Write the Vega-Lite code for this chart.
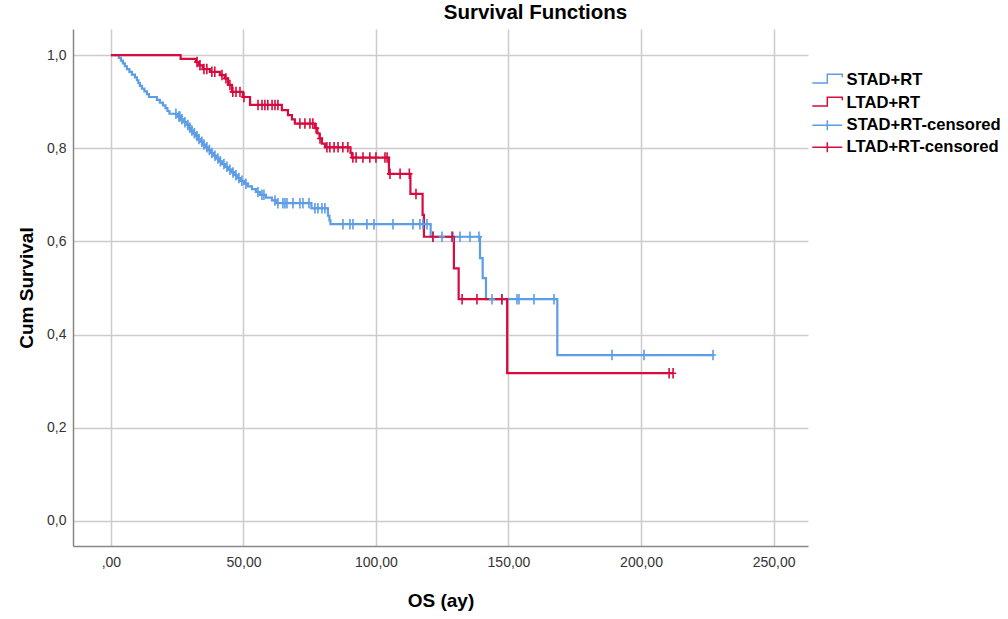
{
  "$schema": "https://vega.github.io/schema/vega-lite/v6.json",
  "width": 735,
  "height": 517,
  "autosize": {"type": "none"},
  "padding": {"left": 73, "top": 29, "right": 200, "bottom": 73},
  "background": "white",
  "title": {"text": "Survival Functions", "font": "Liberation Sans", "fontSize": 20.5, "fontWeight": "bold", "color": "#000000", "offset": 6, "dx": 95},
  "config": {"view": {"stroke": null}},
  "datasets": {
    "steps": [
      {"group": "STAD+RT", "t": 0, "s": 1.0},
      {"group": "STAD+RT", "t": 3.02, "s": 0.994},
      {"group": "STAD+RT", "t": 3.77, "s": 0.988},
      {"group": "STAD+RT", "t": 4.53, "s": 0.982},
      {"group": "STAD+RT", "t": 5.28, "s": 0.976},
      {"group": "STAD+RT", "t": 6.04, "s": 0.970},
      {"group": "STAD+RT", "t": 6.98, "s": 0.964},
      {"group": "STAD+RT", "t": 7.92, "s": 0.958},
      {"group": "STAD+RT", "t": 9.06, "s": 0.952},
      {"group": "STAD+RT", "t": 9.81, "s": 0.946},
      {"group": "STAD+RT", "t": 10.38, "s": 0.940},
      {"group": "STAD+RT", "t": 10.94, "s": 0.934},
      {"group": "STAD+RT", "t": 11.70, "s": 0.928},
      {"group": "STAD+RT", "t": 12.64, "s": 0.922},
      {"group": "STAD+RT", "t": 13.58, "s": 0.916},
      {"group": "STAD+RT", "t": 14.34, "s": 0.910},
      {"group": "STAD+RT", "t": 17.36, "s": 0.904},
      {"group": "STAD+RT", "t": 18.49, "s": 0.898},
      {"group": "STAD+RT", "t": 19.62, "s": 0.892},
      {"group": "STAD+RT", "t": 20.57, "s": 0.886},
      {"group": "STAD+RT", "t": 21.32, "s": 0.880},
      {"group": "STAD+RT", "t": 22.08, "s": 0.874},
      {"group": "STAD+RT", "t": 25.28, "s": 0.868},
      {"group": "STAD+RT", "t": 26.42, "s": 0.862},
      {"group": "STAD+RT", "t": 27.55, "s": 0.856},
      {"group": "STAD+RT", "t": 28.68, "s": 0.850},
      {"group": "STAD+RT", "t": 29.43, "s": 0.844},
      {"group": "STAD+RT", "t": 30.19, "s": 0.838},
      {"group": "STAD+RT", "t": 31.13, "s": 0.832},
      {"group": "STAD+RT", "t": 32.08, "s": 0.826},
      {"group": "STAD+RT", "t": 32.83, "s": 0.820},
      {"group": "STAD+RT", "t": 33.77, "s": 0.814},
      {"group": "STAD+RT", "t": 34.72, "s": 0.808},
      {"group": "STAD+RT", "t": 35.66, "s": 0.802},
      {"group": "STAD+RT", "t": 36.60, "s": 0.796},
      {"group": "STAD+RT", "t": 37.74, "s": 0.790},
      {"group": "STAD+RT", "t": 38.68, "s": 0.784},
      {"group": "STAD+RT", "t": 39.62, "s": 0.778},
      {"group": "STAD+RT", "t": 40.75, "s": 0.772},
      {"group": "STAD+RT", "t": 41.89, "s": 0.766},
      {"group": "STAD+RT", "t": 43.02, "s": 0.760},
      {"group": "STAD+RT", "t": 44.15, "s": 0.754},
      {"group": "STAD+RT", "t": 45.47, "s": 0.748},
      {"group": "STAD+RT", "t": 46.60, "s": 0.742},
      {"group": "STAD+RT", "t": 47.74, "s": 0.736},
      {"group": "STAD+RT", "t": 48.87, "s": 0.730},
      {"group": "STAD+RT", "t": 50.19, "s": 0.724},
      {"group": "STAD+RT", "t": 51.70, "s": 0.718},
      {"group": "STAD+RT", "t": 53.21, "s": 0.712},
      {"group": "STAD+RT", "t": 54.72, "s": 0.706},
      {"group": "STAD+RT", "t": 56.23, "s": 0.700},
      {"group": "STAD+RT", "t": 58.49, "s": 0.694},
      {"group": "STAD+RT", "t": 60.75, "s": 0.688},
      {"group": "STAD+RT", "t": 62.26, "s": 0.682},
      {"group": "STAD+RT", "t": 75.66, "s": 0.671},
      {"group": "STAD+RT", "t": 81.89, "s": 0.655},
      {"group": "STAD+RT", "t": 82.45, "s": 0.645},
      {"group": "STAD+RT", "t": 82.83, "s": 0.637},
      {"group": "STAD+RT", "t": 120.64, "s": 0.610},
      {"group": "STAD+RT", "t": 139.25, "s": 0.564},
      {"group": "STAD+RT", "t": 140.26, "s": 0.521},
      {"group": "STAD+RT", "t": 141.51, "s": 0.476},
      {"group": "STAD+RT", "t": 168.42, "s": 0.356},
      {"group": "STAD+RT", "t": 227.17, "s": 0.356},
      {"group": "LTAD+RT", "t": 0, "s": 1.0},
      {"group": "LTAD+RT", "t": 26.3, "s": 0.992},
      {"group": "LTAD+RT", "t": 32.1, "s": 0.985},
      {"group": "LTAD+RT", "t": 33.2, "s": 0.978},
      {"group": "LTAD+RT", "t": 34.7, "s": 0.970},
      {"group": "LTAD+RT", "t": 37.4, "s": 0.964},
      {"group": "LTAD+RT", "t": 41.1, "s": 0.957},
      {"group": "LTAD+RT", "t": 43.0, "s": 0.950},
      {"group": "LTAD+RT", "t": 44.2, "s": 0.936},
      {"group": "LTAD+RT", "t": 45.7, "s": 0.921},
      {"group": "LTAD+RT", "t": 49.8, "s": 0.910},
      {"group": "LTAD+RT", "t": 52.5, "s": 0.893},
      {"group": "LTAD+RT", "t": 64.5, "s": 0.882},
      {"group": "LTAD+RT", "t": 66.8, "s": 0.871},
      {"group": "LTAD+RT", "t": 68.3, "s": 0.862},
      {"group": "LTAD+RT", "t": 69.4, "s": 0.853},
      {"group": "LTAD+RT", "t": 77.0, "s": 0.843},
      {"group": "LTAD+RT", "t": 77.9, "s": 0.832},
      {"group": "LTAD+RT", "t": 78.7, "s": 0.821},
      {"group": "LTAD+RT", "t": 79.6, "s": 0.810},
      {"group": "LTAD+RT", "t": 80.8, "s": 0.802},
      {"group": "LTAD+RT", "t": 90.4, "s": 0.790},
      {"group": "LTAD+RT", "t": 90.9, "s": 0.780},
      {"group": "LTAD+RT", "t": 104.9, "s": 0.745},
      {"group": "LTAD+RT", "t": 113.0, "s": 0.702},
      {"group": "LTAD+RT", "t": 117.6, "s": 0.657},
      {"group": "LTAD+RT", "t": 118.1, "s": 0.610},
      {"group": "LTAD+RT", "t": 129.4, "s": 0.542},
      {"group": "LTAD+RT", "t": 131.2, "s": 0.476},
      {"group": "LTAD+RT", "t": 149.5, "s": 0.317},
      {"group": "LTAD+RT", "t": 212.1, "s": 0.317}
    ],
    "censored": [
      {"group": "STAD+RT-censored", "t": 24.53, "s": 0.874},
      {"group": "STAD+RT-censored", "t": 25.66, "s": 0.868},
      {"group": "STAD+RT-censored", "t": 26.04, "s": 0.868},
      {"group": "STAD+RT-censored", "t": 26.79, "s": 0.862},
      {"group": "STAD+RT-censored", "t": 27.92, "s": 0.856},
      {"group": "STAD+RT-censored", "t": 29.06, "s": 0.850},
      {"group": "STAD+RT-censored", "t": 29.81, "s": 0.844},
      {"group": "STAD+RT-censored", "t": 30.57, "s": 0.838},
      {"group": "STAD+RT-censored", "t": 31.51, "s": 0.832},
      {"group": "STAD+RT-censored", "t": 32.45, "s": 0.826},
      {"group": "STAD+RT-censored", "t": 33.21, "s": 0.820},
      {"group": "STAD+RT-censored", "t": 34.34, "s": 0.814},
      {"group": "STAD+RT-censored", "t": 35.09, "s": 0.808},
      {"group": "STAD+RT-censored", "t": 36.23, "s": 0.802},
      {"group": "STAD+RT-censored", "t": 37.17, "s": 0.796},
      {"group": "STAD+RT-censored", "t": 38.11, "s": 0.790},
      {"group": "STAD+RT-censored", "t": 39.25, "s": 0.784},
      {"group": "STAD+RT-censored", "t": 40.38, "s": 0.778},
      {"group": "STAD+RT-censored", "t": 41.32, "s": 0.772},
      {"group": "STAD+RT-censored", "t": 42.64, "s": 0.766},
      {"group": "STAD+RT-censored", "t": 43.77, "s": 0.760},
      {"group": "STAD+RT-censored", "t": 44.91, "s": 0.754},
      {"group": "STAD+RT-censored", "t": 46.04, "s": 0.748},
      {"group": "STAD+RT-censored", "t": 47.17, "s": 0.742},
      {"group": "STAD+RT-censored", "t": 48.30, "s": 0.736},
      {"group": "STAD+RT-censored", "t": 49.43, "s": 0.730},
      {"group": "STAD+RT-censored", "t": 50.94, "s": 0.724},
      {"group": "STAD+RT-censored", "t": 55.47, "s": 0.706},
      {"group": "STAD+RT-censored", "t": 56.98, "s": 0.700},
      {"group": "STAD+RT-censored", "t": 57.74, "s": 0.700},
      {"group": "STAD+RT-censored", "t": 61.89, "s": 0.688},
      {"group": "STAD+RT-censored", "t": 63.02, "s": 0.682},
      {"group": "STAD+RT-censored", "t": 64.91, "s": 0.682},
      {"group": "STAD+RT-censored", "t": 65.66, "s": 0.682},
      {"group": "STAD+RT-censored", "t": 66.42, "s": 0.682},
      {"group": "STAD+RT-censored", "t": 68.68, "s": 0.682},
      {"group": "STAD+RT-censored", "t": 71.32, "s": 0.682},
      {"group": "STAD+RT-censored", "t": 72.45, "s": 0.682},
      {"group": "STAD+RT-censored", "t": 74.72, "s": 0.682},
      {"group": "STAD+RT-censored", "t": 76.98, "s": 0.671},
      {"group": "STAD+RT-censored", "t": 78.11, "s": 0.671},
      {"group": "STAD+RT-censored", "t": 79.62, "s": 0.671},
      {"group": "STAD+RT-censored", "t": 80.75, "s": 0.671},
      {"group": "STAD+RT-censored", "t": 87.55, "s": 0.637},
      {"group": "STAD+RT-censored", "t": 90.19, "s": 0.637},
      {"group": "STAD+RT-censored", "t": 91.32, "s": 0.637},
      {"group": "STAD+RT-censored", "t": 96.60, "s": 0.637},
      {"group": "STAD+RT-censored", "t": 99.25, "s": 0.637},
      {"group": "STAD+RT-censored", "t": 106.42, "s": 0.637},
      {"group": "STAD+RT-censored", "t": 113.96, "s": 0.637},
      {"group": "STAD+RT-censored", "t": 116.60, "s": 0.637},
      {"group": "STAD+RT-censored", "t": 117.74, "s": 0.637},
      {"group": "STAD+RT-censored", "t": 119.25, "s": 0.637},
      {"group": "STAD+RT-censored", "t": 121.51, "s": 0.610},
      {"group": "STAD+RT-censored", "t": 124.91, "s": 0.610},
      {"group": "STAD+RT-censored", "t": 129.06, "s": 0.610},
      {"group": "STAD+RT-censored", "t": 131.70, "s": 0.610},
      {"group": "STAD+RT-censored", "t": 135.47, "s": 0.610},
      {"group": "STAD+RT-censored", "t": 138.87, "s": 0.610},
      {"group": "STAD+RT-censored", "t": 143.77, "s": 0.476},
      {"group": "STAD+RT-censored", "t": 147.55, "s": 0.476},
      {"group": "STAD+RT-censored", "t": 153.21, "s": 0.476},
      {"group": "STAD+RT-censored", "t": 153.96, "s": 0.476},
      {"group": "STAD+RT-censored", "t": 159.62, "s": 0.476},
      {"group": "STAD+RT-censored", "t": 167.17, "s": 0.476},
      {"group": "STAD+RT-censored", "t": 189.06, "s": 0.356},
      {"group": "STAD+RT-censored", "t": 201.13, "s": 0.356},
      {"group": "STAD+RT-censored", "t": 227.17, "s": 0.356},
      {"group": "LTAD+RT-censored", "t": 32.5, "s": 0.985},
      {"group": "LTAD+RT-censored", "t": 33.6, "s": 0.978},
      {"group": "LTAD+RT-censored", "t": 35.1, "s": 0.970},
      {"group": "LTAD+RT-censored", "t": 36.2, "s": 0.970},
      {"group": "LTAD+RT-censored", "t": 38.1, "s": 0.964},
      {"group": "LTAD+RT-censored", "t": 39.2, "s": 0.964},
      {"group": "LTAD+RT-censored", "t": 41.9, "s": 0.957},
      {"group": "LTAD+RT-censored", "t": 43.4, "s": 0.950},
      {"group": "LTAD+RT-censored", "t": 44.9, "s": 0.936},
      {"group": "LTAD+RT-censored", "t": 46.0, "s": 0.921},
      {"group": "LTAD+RT-censored", "t": 47.2, "s": 0.921},
      {"group": "LTAD+RT-censored", "t": 48.7, "s": 0.921},
      {"group": "LTAD+RT-censored", "t": 50.2, "s": 0.910},
      {"group": "LTAD+RT-censored", "t": 55.5, "s": 0.893},
      {"group": "LTAD+RT-censored", "t": 57.0, "s": 0.893},
      {"group": "LTAD+RT-censored", "t": 58.1, "s": 0.893},
      {"group": "LTAD+RT-censored", "t": 59.2, "s": 0.893},
      {"group": "LTAD+RT-censored", "t": 60.8, "s": 0.893},
      {"group": "LTAD+RT-censored", "t": 61.9, "s": 0.893},
      {"group": "LTAD+RT-censored", "t": 63.0, "s": 0.893},
      {"group": "LTAD+RT-censored", "t": 71.3, "s": 0.853},
      {"group": "LTAD+RT-censored", "t": 73.2, "s": 0.853},
      {"group": "LTAD+RT-censored", "t": 75.1, "s": 0.853},
      {"group": "LTAD+RT-censored", "t": 76.2, "s": 0.853},
      {"group": "LTAD+RT-censored", "t": 77.4, "s": 0.843},
      {"group": "LTAD+RT-censored", "t": 78.9, "s": 0.821},
      {"group": "LTAD+RT-censored", "t": 81.5, "s": 0.802},
      {"group": "LTAD+RT-censored", "t": 82.6, "s": 0.802},
      {"group": "LTAD+RT-censored", "t": 84.2, "s": 0.802},
      {"group": "LTAD+RT-censored", "t": 85.7, "s": 0.802},
      {"group": "LTAD+RT-censored", "t": 87.5, "s": 0.802},
      {"group": "LTAD+RT-censored", "t": 89.4, "s": 0.802},
      {"group": "LTAD+RT-censored", "t": 91.3, "s": 0.780},
      {"group": "LTAD+RT-censored", "t": 92.5, "s": 0.780},
      {"group": "LTAD+RT-censored", "t": 95.1, "s": 0.780},
      {"group": "LTAD+RT-censored", "t": 97.7, "s": 0.780},
      {"group": "LTAD+RT-censored", "t": 100.0, "s": 0.780},
      {"group": "LTAD+RT-censored", "t": 103.4, "s": 0.780},
      {"group": "LTAD+RT-censored", "t": 104.2, "s": 0.780},
      {"group": "LTAD+RT-censored", "t": 105.3, "s": 0.745},
      {"group": "LTAD+RT-censored", "t": 109.1, "s": 0.745},
      {"group": "LTAD+RT-censored", "t": 112.6, "s": 0.745},
      {"group": "LTAD+RT-censored", "t": 115.1, "s": 0.702},
      {"group": "LTAD+RT-censored", "t": 121.5, "s": 0.610},
      {"group": "LTAD+RT-censored", "t": 128.7, "s": 0.610},
      {"group": "LTAD+RT-censored", "t": 132.5, "s": 0.476},
      {"group": "LTAD+RT-censored", "t": 138.1, "s": 0.476},
      {"group": "LTAD+RT-censored", "t": 147.5, "s": 0.476},
      {"group": "LTAD+RT-censored", "t": 210.6, "s": 0.317},
      {"group": "LTAD+RT-censored", "t": 212.1, "s": 0.317}
    ]
  },
  "encoding": {
    "x": {
      "field": "t", "type": "quantitative",
      "scale": {"domain": [-14.3, 263], "nice": false, "zero": false},
      "axis": {
        "title": "OS (ay)", "values": [0, 50, 100, 150, 200, 250],
        "labelExpr": "datum.value == 0 ? ',00' : replace(format(datum.value, '.2f'), '.', ',')",
        "grid": true, "gridColor": "#cccccc", "gridWidth": 1.5,
        "ticks": false, "domainColor": "#888888", "domainWidth": 1.5,
        "labelFont": "Liberation Sans", "labelFontSize": 14, "labelColor": "#333333", "labelPadding": 9,
        "titleFont": "Liberation Sans", "titleFontSize": 19, "titleFontWeight": "bold", "titleColor": "#000000", "titlePadding": 22
      }
    },
    "y": {
      "field": "s", "type": "quantitative",
      "scale": {"domain": [-0.054, 1.056], "nice": false, "zero": false},
      "axis": {
        "title": "Cum Survival", "values": [0, 0.2, 0.4, 0.6, 0.8, 1.0],
        "labelExpr": "replace(format(datum.value, '.1f'), '.', ',')",
        "grid": true, "gridColor": "#cccccc", "gridWidth": 1.5,
        "ticks": false, "domainColor": "#888888", "domainWidth": 1.5,
        "labelFont": "Liberation Sans", "labelFontSize": 14, "labelColor": "#333333", "labelPadding": 7,
        "titleFont": "Liberation Sans", "titleFontSize": 19, "titleFontWeight": "bold", "titleColor": "#000000", "titlePadding": 10
      }
    },
    "color": {
      "field": "group", "type": "nominal",
      "scale": {"domain": ["STAD+RT", "LTAD+RT", "STAD+RT-censored", "LTAD+RT-censored"], "range": ["#5D9CE6", "#D80B3E", "#5D9CE6", "#D80B3E"]},
      "legend": {
        "title": null, "orient": "none", "legendX": 746, "legendY": 43, "padding": 0,
        "labelFont": "Liberation Sans", "labelFontSize": 16.6, "labelFontWeight": "bold", "labelColor": "#000000",
        "labelOffset": 11, "symbolSize": 100, "rowPadding": 5,
        "encode": {
          "symbols": {"update": {
            "shape": {"signal": "indexof(datum.label, 'censored') >= 0 ? 'M-3,0H3M0,-1V1' : 'M-3,0.54H0V-1.2H3V-0.6'"},
            "fill": {"value": "transparent"},
            "stroke": {"signal": "indexof(datum.label, 'STAD') >= 0 ? '#5D9CE6' : '#D80B3E'"},
            "strokeWidth": {"value": 1.5},
            "opacity": {"value": 1}
          }}
        }
      }
    }
  },
  "layer": [
    {
      "data": {"name": "steps"},
      "mark": {"type": "line", "interpolate": "step-after", "strokeWidth": 2.2}
    },
    {
      "data": {"name": "censored"},
      "mark": {"type": "point", "shape": "M0,-1V1M-0.6,0H0.6", "size": 110, "filled": false, "strokeWidth": 1.6, "opacity": 1}
    }
  ]
}
